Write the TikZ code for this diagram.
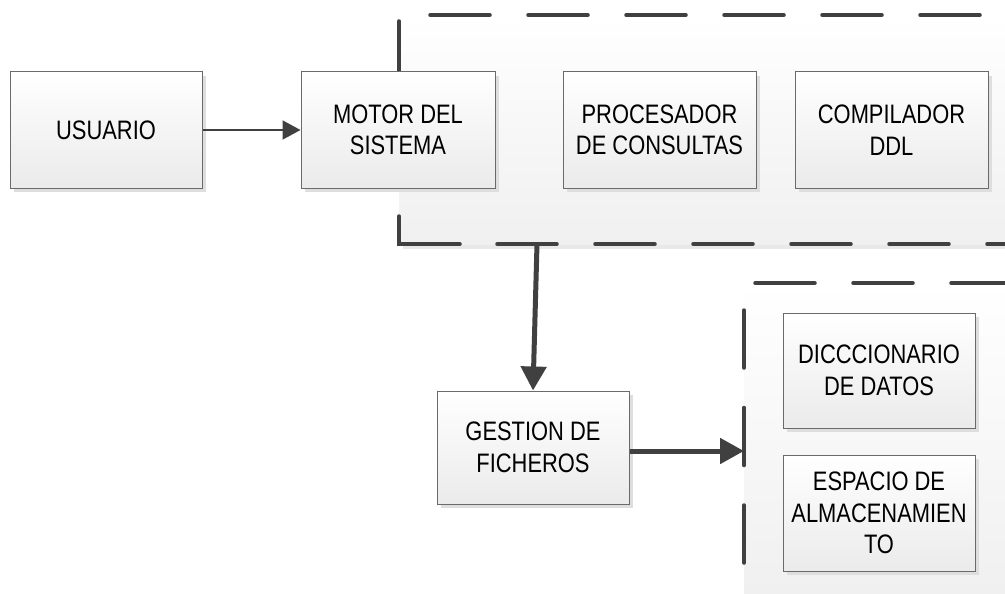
\documentclass[tikz,border=0pt]{standalone}
\usepackage{fontspec}
\setmainfont[FakeStretch=0.82]{Liberation Sans}
\usetikzlibrary{shadows,arrows.meta}
\definecolor{linec}{HTML}{404040}
\definecolor{boxc}{HTML}{6A6A6A}
\begin{document}
\begin{tikzpicture}[x=1pt,y=-1pt,
  box/.style={draw=boxc, line width=1pt, top color=white, bottom color=black!8,
    minimum width=193pt, minimum height=116pt, inner sep=0pt, align=center,
    font=\fontsize{26.7}{31.5}\selectfont,
    drop shadow={shadow xshift=4pt, shadow yshift=-4pt, fill=black!13, opacity=1}},
  frameline/.style={draw=linec, line width=3.5pt, line cap=round},
  framedash/.style={frameline, dash pattern=on 60pt off 38pt},
  thinarrow/.style={draw=linec, line width=2pt, -{Triangle[length=18pt,width=19pt]}},
  thickarrow/.style={draw=linec, line width=5pt, -{Triangle[length=24pt,width=25pt]}},
  framefill/.style={top color=white, bottom color=black!6, draw=none}
]
\useasboundingbox (0,0) rectangle (1005,594);
\fill[white] (0,0) rectangle (1005,594);

% group frame 1
\fill[black!9] (403,19) rectangle (1012,249);
\path[framefill] (399,15) rectangle (1012,244);
\draw[framedash] (430,15) -- (1012,15);
\draw[frameline] (399,21) -- (399,81);
\draw[frameline] (399,216) -- (399,244) -- (460,244);
\draw[framedash] (497,244) -- (1012,244);
\coordinate (f1b) at (537,244);

% group frame 2
\path[framefill] (744,283) rectangle (1012,600);
\draw[framedash] (755,283) -- (1012,283);
\draw[frameline, dash pattern=on 58pt off 39.5pt] (744,310) -- (744,600);
\coordinate (f2l) at (744,451);

% boxes
\node[box, minimum width=192pt] (usuario) at (106,130) {USUARIO};
\node[box, minimum width=194pt] (motor) at (398,130) {MOTOR DEL\\SISTEMA};
\node[box] (proc) at (659.5,130) {PROCESADOR\\DE CONSULTAS};
\node[box] (comp) at (891.5,130) {COMPILADOR\\DDL};
\node[box, minimum width=192pt, minimum height=113pt] (gestion) at (533,447.5) {GESTION DE\\FICHEROS};
\node[box, minimum width=192pt, minimum height=115pt] (dicc) at (879,370.5) {DICCCIONARIO\\DE DATOS};
\node[box, minimum width=192pt] (espacio) at (879,513) {ESPACIO DE\\ALMACENAMIEN\\TO};

% connectors
\draw[thinarrow] (usuario.east) -- (motor.west);
\draw[thickarrow] (f1b) -- (gestion.north);
\draw[thickarrow] ([yshift=-3.5pt]gestion.east) -- (f2l);
\end{tikzpicture}
\end{document}
